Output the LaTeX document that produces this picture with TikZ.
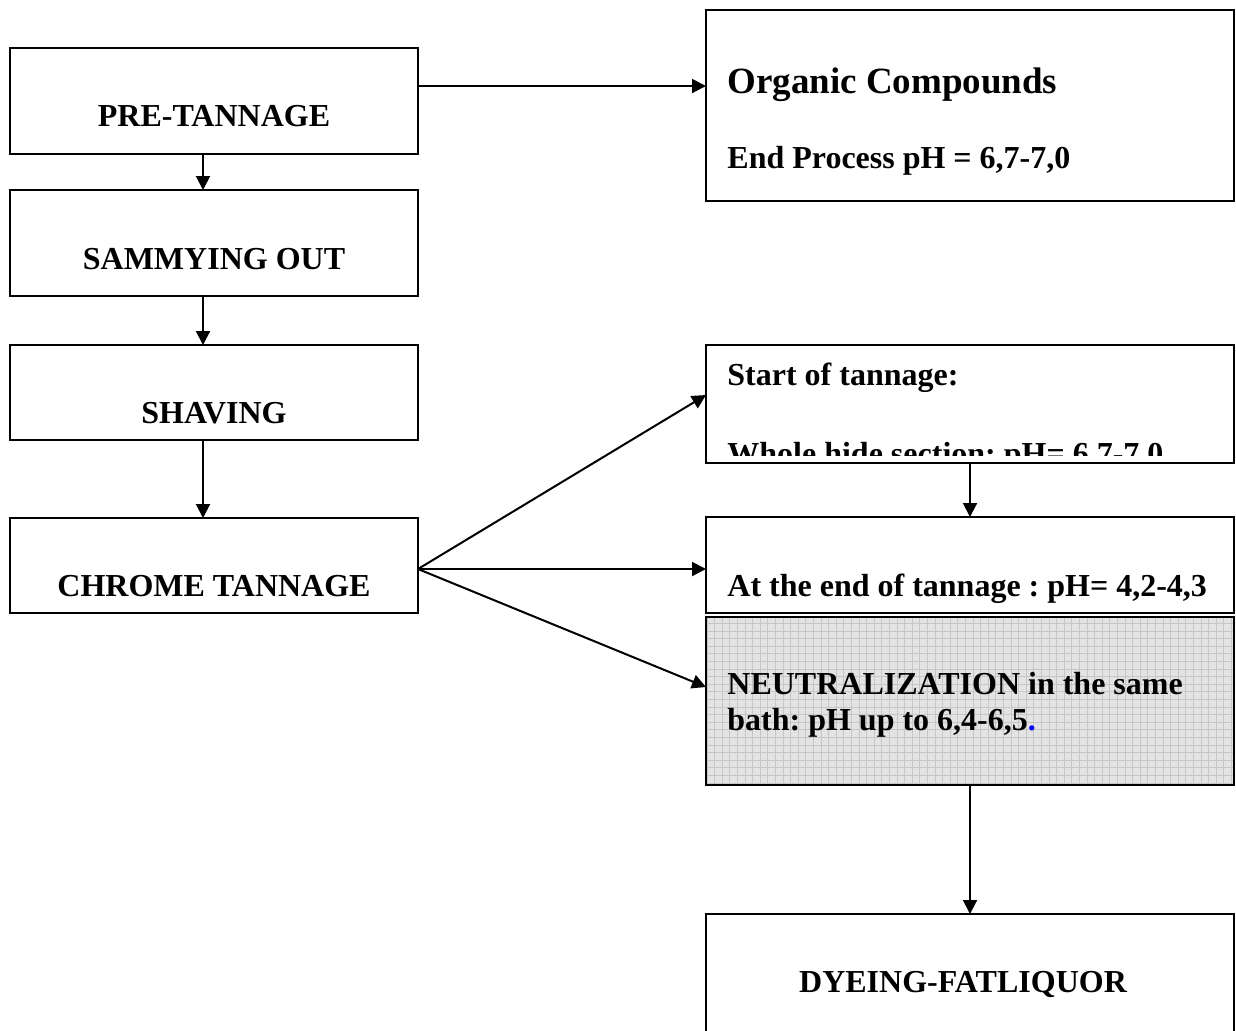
\documentclass[tikz,border=0pt]{standalone}
\usepackage{fontspec}
\setmainfont{Liberation Serif}
\usetikzlibrary{arrows.meta}
\frenchspacing

\begin{document}
\begin{tikzpicture}[x=.5pt,y=-.5pt,
    box/.style={draw,line width=1pt,inner sep=0pt,outer sep=0pt},
    lbl/.style={font=\fontsize{16}{18}\selectfont\bfseries,inner sep=0pt},
    flow/.style={line width=1pt,-{Triangle[length=7pt,width=7pt]}}]
  \useasboundingbox (0,0) rectangle (1236,1030);
  % left column
  \node[box,minimum width=204pt,minimum height=53pt] (pre) at (214,101) {};
  \node[box,minimum width=204pt,minimum height=53pt] (sam) at (214,243) {};
  \node[box,minimum width=204pt,minimum height=47.5pt] (shav) at (214,392.5) {};
  \node[box,minimum width=204pt,minimum height=47.5pt] (chrome) at (214,565.5) {};
  \node[lbl,anchor=base] (pretxt) at (214,126) {PRE-TANNAGE};
  \node[lbl,anchor=base] (samtxt) at (214,269) {SAMMYING OUT};
  \node[lbl,anchor=base] (shavtxt) at (214,423) {SHAVING};
  \node[lbl,anchor=base] (chrometxt) at (214,596) {CHROME TANNAGE};
  % right column
  \node[box,minimum width=264pt,minimum height=95.5pt] (org) at (970,105.5) {};
  \node[lbl,anchor=base west,font=\fontsize{18.5}{22}\selectfont\bfseries] (orgtxt) at (727,93) {Organic Compounds};
  \node[lbl,anchor=base west] (endtxt) at (727,168) {End Process pH = 6,7-7,0};
  \node[box,minimum width=264pt,minimum height=59pt] (start) at (970,404) {};
  \node[lbl,anchor=base west] (starttxt) at (727,385) {Start of tannage:};
  \begin{scope}
    \clip (700,340) rectangle (1240,455);
    \node[lbl,anchor=base west] (wholetxt) at (727,464) {Whole hide section: pH= 6,7-7,0};
  \end{scope}
  \node[box,minimum width=264pt,minimum height=48pt] (endt) at (970,565) {};
  \node[lbl,anchor=base west] (endttxt) at (727,596) {At the end of tannage : pH= 4,2-4,3};
  \node[box,fill=gray!22,minimum width=264pt,minimum height=84pt] (neut) at (970,701) {};
  \begin{scope}
    \clip (neut.south west) rectangle (neut.north east);
    \draw[gray!45,line width=.3pt,step=3.8pt] (neut.south west) grid (neut.north east);
  \end{scope}
  \draw[line width=1pt] (neut.south west) rectangle (neut.north east);
  \node[lbl,anchor=base west,align=left] (neuttxt) at (727,730)
    {NEUTRALIZATION in the same\\bath: pH up to 6,4-6,5\textcolor{blue}{.}};
  \node[box,minimum width=264pt,minimum height=60pt] (dye) at (970,974) {};
  \node[lbl,anchor=base] (dyetxt) at (963,992) {DYEING-FATLIQUOR};
  % connectors
  \draw[flow] ([yshift=7.5pt]pre.east) -- ([yshift=7.5pt]pre.east -| org.west);
  \draw[flow] ([xshift=-5.5pt]pre.south) -- ([xshift=-5.5pt]sam.north);
  \draw[flow] ([xshift=-5.5pt]sam.south) -- ([xshift=-5.5pt]shav.north);
  \draw[flow] ([xshift=-5.5pt]shav.south) -- ([xshift=-5.5pt]chrome.north);
  \draw[flow] ([yshift=-1.75pt]chrome.east) -- ([yshift=4.5pt]start.west);
  \draw[flow] ([yshift=-1.75pt]chrome.east) -- ([yshift=-2pt]endt.west);
  \draw[flow] ([yshift=-1.75pt]chrome.east) -- ([yshift=7pt]neut.west);
  \draw[flow] (start.south) -- (endt.north);
  \draw[flow] (neut.south) -- (dye.north);
\end{tikzpicture}
\end{document}
